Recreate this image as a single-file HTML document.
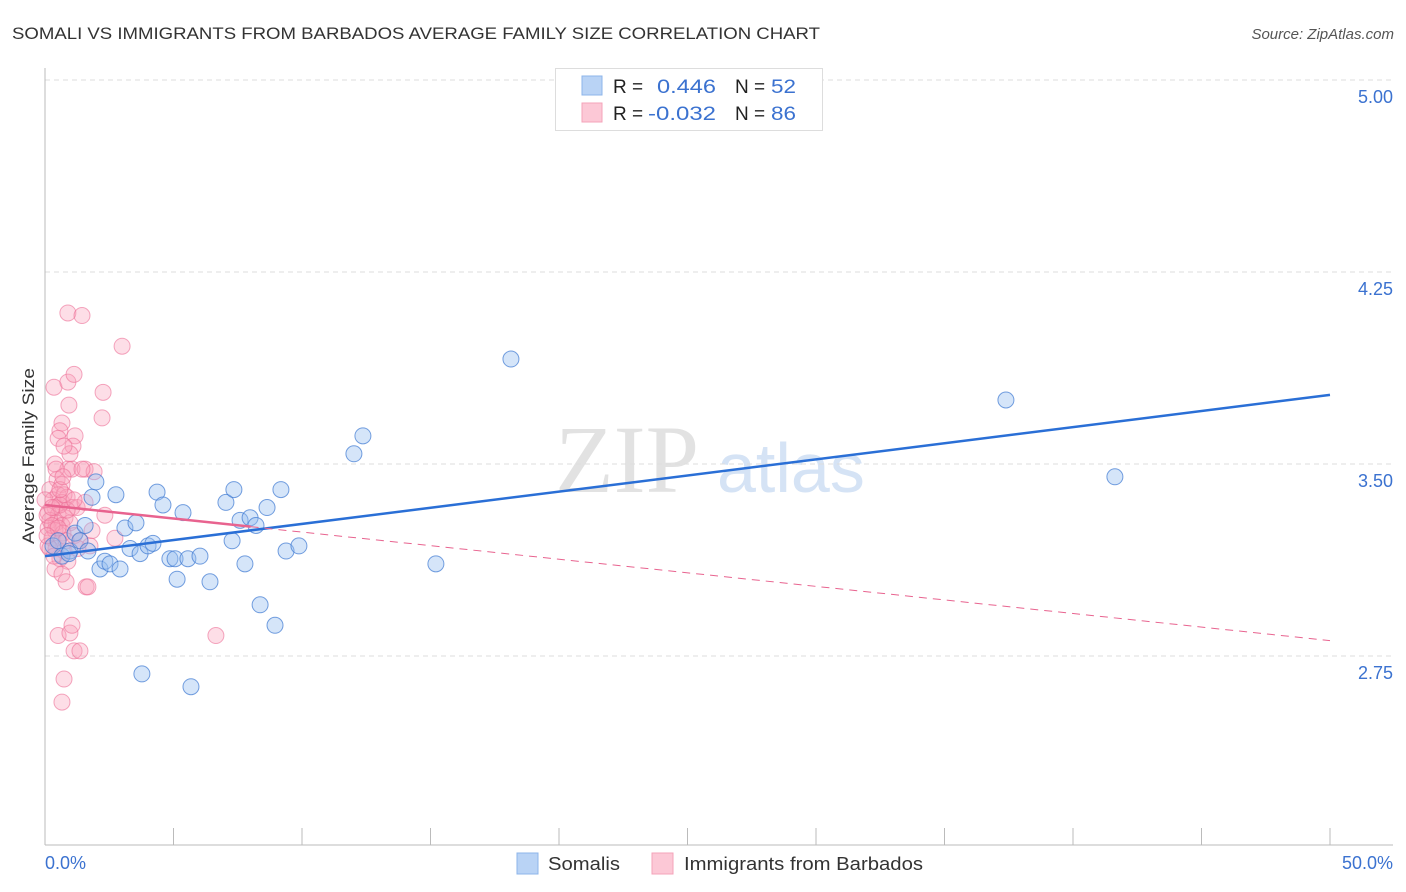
<!DOCTYPE html>
<html><head><meta charset="utf-8"><style>
body{margin:0;background:#fff;font-family:"Liberation Sans",sans-serif;}
#wrap{position:relative;width:1406px;height:892px;overflow:hidden;}
</style></head><body>
<div id="wrap">
<svg id="svg" width="1406" height="892" xmlns="http://www.w3.org/2000/svg">
<text x="12" y="39" font-size="17" fill="#333" textLength="808" lengthAdjust="spacingAndGlyphs">SOMALI VS IMMIGRANTS FROM BARBADOS AVERAGE FAMILY SIZE CORRELATION CHART</text>
<text x="1394" y="39" font-size="15" fill="#555" font-style="italic" text-anchor="end">Source: ZipAtlas.com</text>
<text x="555" y="492" font-size="96" fill="#e2e2e2" font-family="Liberation Serif,serif">ZIP</text>
<text x="717" y="492" font-size="70" fill="#d5e3f5">atlas</text>
<text transform="translate(34,456) rotate(-90)" font-size="17" fill="#333" text-anchor="middle" textLength="176" lengthAdjust="spacingAndGlyphs">Average Family Size</text>
<g id="grid"></g><g id="axes"></g><g id="pts"></g><g id="lines"></g>
<g>
<rect x="555.5" y="68.5" width="267" height="62" fill="#fff" stroke="#ddd"/>
<rect x="582" y="76" width="20" height="19" fill="#b9d3f5" stroke="#8db4ea"/>
<rect x="582" y="103" width="20" height="19" fill="#fcc8d6" stroke="#f4a3b9"/>
<text x="613" y="93" font-size="19" fill="#222">R =</text><text x="657" y="93" font-size="19" fill="#3b72d0" textLength="59" lengthAdjust="spacingAndGlyphs">0.446</text>
<text x="735" y="93" font-size="19" fill="#222">N =</text><text x="771" y="93" font-size="19" fill="#3b72d0" textLength="25" lengthAdjust="spacingAndGlyphs">52</text>
<text x="613" y="120" font-size="19" fill="#222">R =</text><text x="648" y="120" font-size="19" fill="#3b72d0" textLength="68" lengthAdjust="spacingAndGlyphs">-0.032</text>
<text x="735" y="120" font-size="19" fill="#222">N =</text><text x="771" y="120" font-size="19" fill="#3b72d0" textLength="25" lengthAdjust="spacingAndGlyphs">86</text>
</g>
<g>
<rect x="517" y="853" width="21" height="21" fill="#b9d3f5" stroke="#8db4ea"/>
<text x="548" y="870" font-size="18" fill="#333" textLength="72" lengthAdjust="spacingAndGlyphs">Somalis</text>
<rect x="652" y="853" width="21" height="21" fill="#fcc8d6" stroke="#f4a3b9"/>
<text x="684" y="870" font-size="18" fill="#333" textLength="239" lengthAdjust="spacingAndGlyphs">Immigrants from Barbados</text>
</g>
<text x="45" y="869" font-size="18" fill="#3b72d0">0.0%</text>
<text x="1393" y="869" font-size="18" fill="#3b72d0" text-anchor="end">50.0%</text>
</svg>
</div>
<script>
const yTicks=[5.00,4.25,3.50,2.75];
const yTickLabels=["5.00","4.25","3.50","2.75"];
const xTicks=[0,5,10,15,20,25,30,35,40,45,50];
const somaliX=[0.31,0.51,0.66,0.97,1.17,1.56,1.83,1.98,2.14,2.33,2.53,2.76,2.92,3.11,3.31,3.54,3.70,4.01,4.20,4.36,4.59,4.86,5.06,5.14,5.37,5.56,5.68,6.03,6.42,7.04,7.28,7.35,7.59,7.78,7.98,8.21,8.37,8.64,8.95,9.18,9.38,9.88,3.77,12.02,12.37,15.21,18.13,37.39,41.63,0.93,1.36,1.67];
const somaliY=[3.18,3.20,3.14,3.16,3.23,3.26,3.37,3.43,3.09,3.12,3.11,3.38,3.09,3.25,3.17,3.27,3.15,3.18,3.19,3.39,3.34,3.13,3.13,3.05,3.31,3.13,2.63,3.14,3.04,3.35,3.20,3.40,3.28,3.11,3.29,3.26,2.95,3.33,2.87,3.40,3.16,3.18,2.68,3.54,3.61,3.11,3.91,3.75,3.45,3.15,3.20,3.16];
const barbX=[0.89,1.44,3.00,0.35,0.89,1.13,2.26,0.93,2.22,0.66,0.58,1.17,0.51,1.09,0.39,0.89,1.05,1.56,1.91,0.47,0.66,0.19,0.51,0.86,0.31,0.66,0.39,1.05,0.12,0.51,0.78,2.33,0.19,0.43,0.66,0.97,0.12,0.39,0.70,0.27,0.51,1.13,1.36,0.12,0.43,0.74,1.75,2.72,0.58,0.89,0.39,0.66,0.82,1.60,1.67,0.51,0.97,1.05,1.13,1.36,0.74,0.66,6.65,1.25,1.56,0.00,0.08,0.27,0.58,0.74,0.82,1.28,1.44,0.97,0.74,0.43,0.19,0.35,0.58,0.86,1.13,1.83,0.51,0.70,0.27,0.08];
const barbY=[4.09,4.08,3.96,3.80,3.82,3.85,3.78,3.73,3.68,3.66,3.63,3.61,3.60,3.57,3.50,3.48,3.48,3.48,3.47,3.44,3.42,3.40,3.38,3.37,3.36,3.35,3.33,3.33,3.31,3.30,3.29,3.30,3.28,3.27,3.26,3.27,3.25,3.24,3.23,3.21,3.20,3.22,3.20,3.18,3.17,3.16,3.18,3.21,3.13,3.12,3.09,3.07,3.04,3.02,3.02,2.83,2.84,2.87,2.77,2.77,2.66,2.57,2.83,3.33,3.35,3.36,3.30,3.26,3.34,3.38,3.20,3.17,3.48,3.54,3.57,3.48,3.17,3.14,3.40,3.32,3.36,3.24,3.25,3.45,3.33,3.22];
const somaliTrend=[3.14,3.77];
const barbTrend=[3.34,2.81];
const X0=45,X1=1330;
const xs=v=>X0+(v/50)*(X1-X0);
const ys=v=>80+(5-v)*256;
const NS="http://www.w3.org/2000/svg";
function mk(tag,attrs,parent){const e=document.createElementNS(NS,tag);for(const k in attrs)e.setAttribute(k,attrs[k]);document.getElementById(parent).appendChild(e);return e;}
yTicks.forEach((t,i)=>{
 const l=mk('line',{x1:45,x2:1393,y1:ys(t),y2:ys(t),stroke:'#ddd','stroke-dasharray':'5,4'},'grid');
 
 
 const tx=mk('text',{x:1393,y:ys(t)+23,'font-size':18,fill:'#3b72d0','text-anchor':'end'},'grid');
 tx.textContent=yTickLabels[i];
 
 
});
const ax=mk('line',{x1:45,x2:45,y1:68,y2:845,stroke:'#bbb'},'axes');


const bx=mk('line',{x1:45,x2:1393,y1:845,y2:845,stroke:'#bbb'},'axes');


xTicks.forEach(t=>{
 const l=mk('line',{x1:xs(t),x2:xs(t),y1:828,y2:845,stroke:'#bbb'},'axes');
 
 
});
barbX.forEach((x,i)=>{
 const c=mk('circle',{cx:xs(x),cy:ys(barbY[i]),r:8,fill:'rgba(248,160,185,0.35)',stroke:'rgba(236,110,150,0.6)','stroke-width':1},'pts');
 
 
});
somaliX.forEach((x,i)=>{
 const c=mk('circle',{cx:xs(x),cy:ys(somaliY[i]),r:8,fill:'rgba(150,190,240,0.4)',stroke:'rgba(60,120,210,0.7)','stroke-width':1},'pts');
 
 
});
const bl=mk('line',{x1:xs(0),y1:ys(somaliTrend[0]),x2:xs(50),y2:ys(somaliTrend[1]),stroke:'#2a6fd6','stroke-width':2.5},'lines');


const f=8/50;
const pm=barbTrend[0]+(barbTrend[1]-barbTrend[0])*f;
const pl=mk('line',{x1:xs(0),y1:ys(barbTrend[0]),x2:xs(8),y2:ys(pm),stroke:'#e8638f','stroke-width':2.5},'lines');


const pd=mk('line',{x1:xs(8),y1:ys(pm),x2:xs(50),y2:ys(barbTrend[1]),stroke:'#e8638f','stroke-width':1,'stroke-dasharray':'8,6'},'lines');


</script>
</body></html>
